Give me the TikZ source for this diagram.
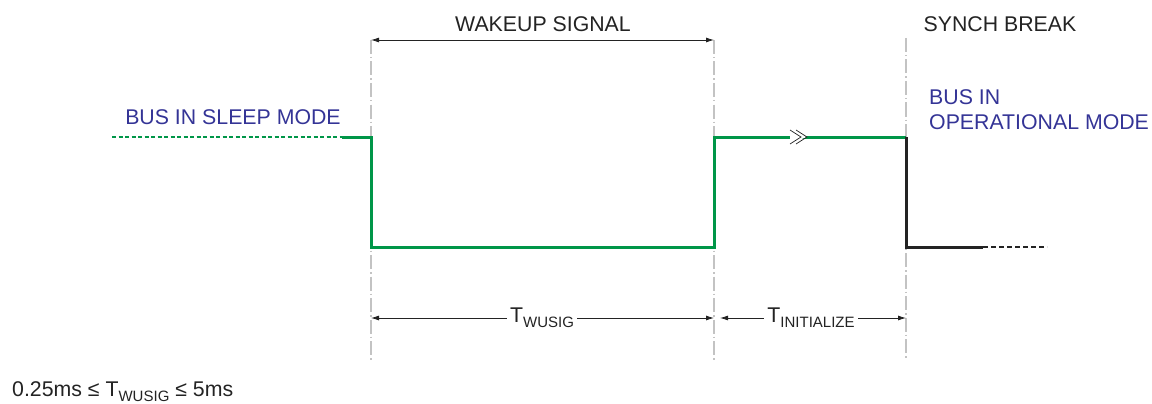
\documentclass[tikz,border=0pt]{standalone}
\usepackage{fontspec}
\setmainfont{Liberation Sans}
\usetikzlibrary{arrows.meta}
\definecolor{sigGreen}{RGB}{0, 150, 72}
\definecolor{modeBlue}{RGB}{52, 52, 150}
\definecolor{guideGray}{RGB}{195, 195, 195}
\definecolor{textDark}{RGB}{35, 35, 35}
\newcommand{\lowsub}[1]{\raisebox{-5pt}{\fontsize{15}{15}\selectfont #1}}

\begin{document}
\begin{tikzpicture}[x=1pt, y=-1pt,
    lbl/.style={text=textDark, font=\fontsize{21.3}{25}\selectfont, inner sep=0pt},
    modelbl/.style={lbl, text=modeBlue},
    guide/.style={guideGray, line width=1.2pt, dash pattern=on 14pt off 3pt on 1.5pt off 3pt},
    dim/.style={textDark, line width=0.8pt, {Latex[length=8pt,width=5pt]}-{Latex[length=8pt,width=5pt]}},
    wave/.style={sigGreen, line width=3pt}]
  \useasboundingbox (0,0) rectangle (1152,404);

  % edges of the wakeup signal and the synch break
  \coordinate (wuStart) at (371,137);
  \coordinate (wuEnd) at (714,137);
  \coordinate (brk) at (906,137);

  \draw[guide] (371,40) -- (371,362);
  \draw[guide] (714,40) -- (714,362);
  \draw[guide] (906,38) -- (906,360);

  % top dimension
  \draw[dim] (371,40) -- (714,40);
  \node[lbl] (wuLbl) at (543,24) {WAKEUP SIGNAL};
  \node[lbl] (brkLbl) at (1000,24) {SYNCH BREAK};

  % bus waveform
  \draw[sigGreen, line width=1.4pt, dash pattern=on 4pt off 2.5pt] (112,137) -- (342,137);
  \draw[wave, line join=miter] (342,137) -- (wuStart) -- (371,247) -- (714,247) -- (wuEnd) -- (brk);
  \draw[textDark, line width=3pt, line join=miter] (brk) -- (906,247) -- (983,247);
  \draw[textDark, line width=1.4pt, dash pattern=on 5pt off 3pt] (983,247) -- (1047,247);

  % double chevron on the high level
  \fill[white] (790,131) -- (807,137) -- (790,143) -- cycle;
  \draw[textDark, line width=0.7pt] (790,130) -- (801,137) -- (790,144);
  \draw[textDark, line width=0.7pt] (796,130) -- (807,137) -- (796,144);

  \node[modelbl] (sleepLbl) at (233,117) {BUS IN SLEEP MODE};
  \node[modelbl, anchor=west, align=left] (opLbl) at (929,110) {BUS IN\\OPERATIONAL MODE};

  % bottom dimensions
  \draw[dim] (371,318) -- (714,318);
  \draw[dim] (720,318) -- (906,318);
  \node[lbl, fill=white, inner xsep=3pt] (twLbl) at (542,318) {T\lowsub{WUSIG}};
  \node[lbl, fill=white, inner xsep=3pt] (tiLbl) at (811,318) {T\lowsub{INITIALIZE}};

  \node[lbl, anchor=base west] (rangeLbl) at (12,396) {0.25ms ≤ T\lowsub{WUSIG} ≤ 5ms};
\end{tikzpicture}
\end{document}
